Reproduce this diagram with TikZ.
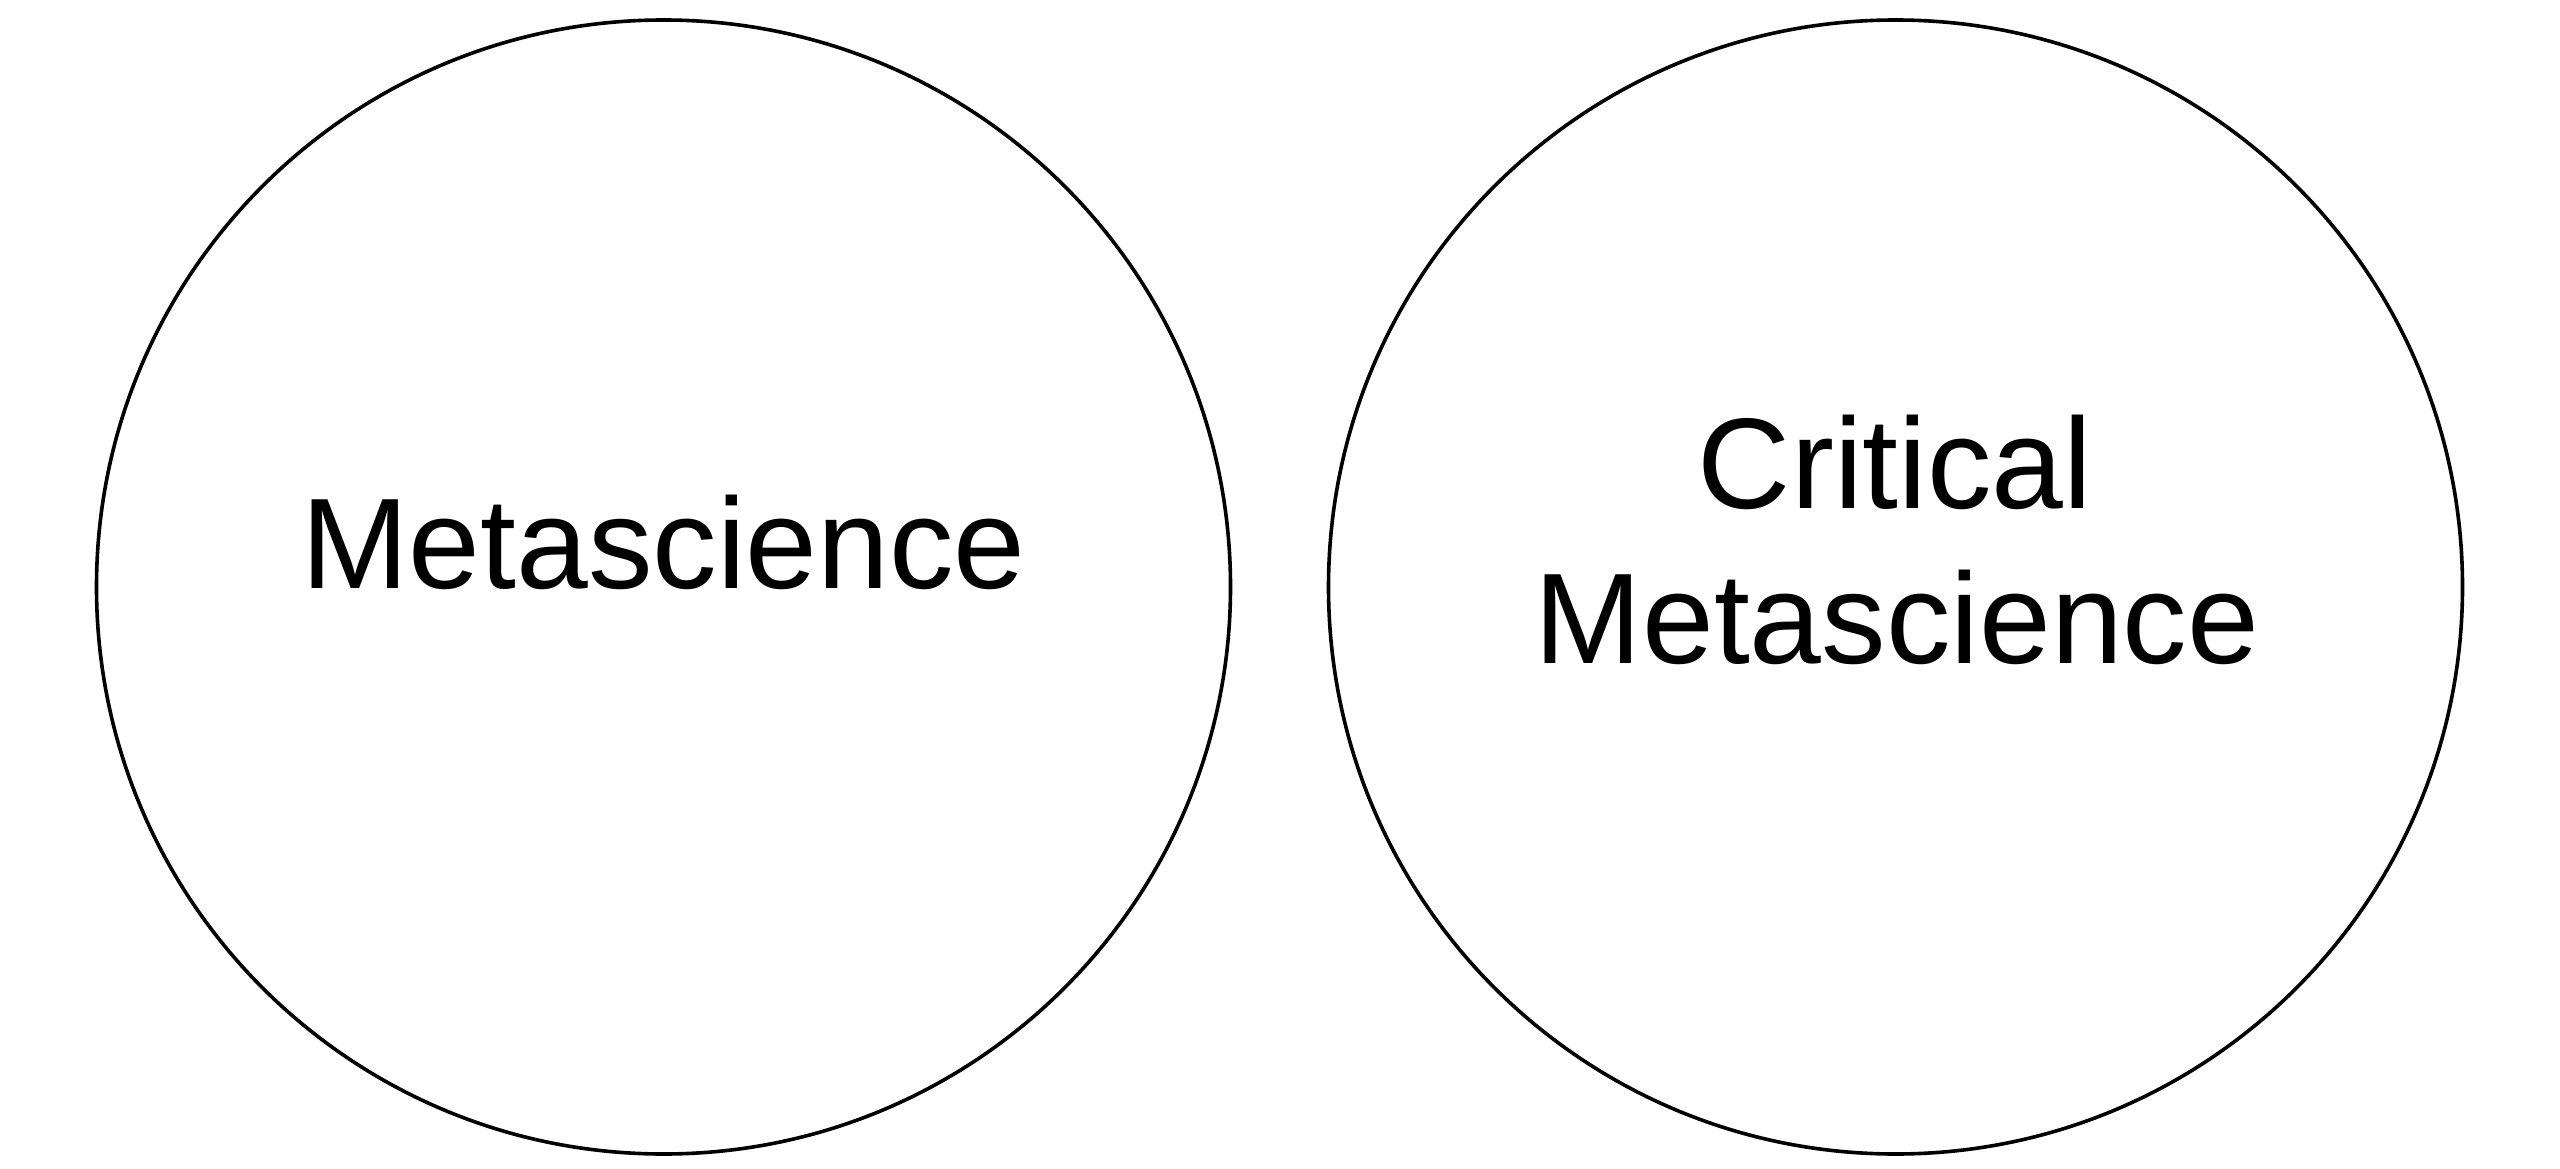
\documentclass[tikz,border=0pt]{standalone}
\usepackage{fontspec}
\setmainfont{Liberation Sans}
\begin{document}
\begin{tikzpicture}[x=1pt,y=-1pt,
  ring/.style={circle,draw=black,line width=3.6pt,minimum size=1134pt,inner sep=0pt},
  lbl/.style={inner sep=0pt,font=\fontsize{129}{155}\selectfont}]
\useasboundingbox (0,0) rectangle (2560,1169);
\fill[white] (0,0) rectangle (2560,1169);
\node[ring] (left) at (663.5,587) {};
\node[ring] (right) at (1895.5,587) {};
\node[lbl,anchor=base] (meta) at (663.5,588) {Metascience};
\node[lbl,anchor=base] (crit) at (1895,508) {Critical};
\node[lbl,anchor=base] (meta2) at (1897,663) {Metascience};
\end{tikzpicture}
\end{document}
